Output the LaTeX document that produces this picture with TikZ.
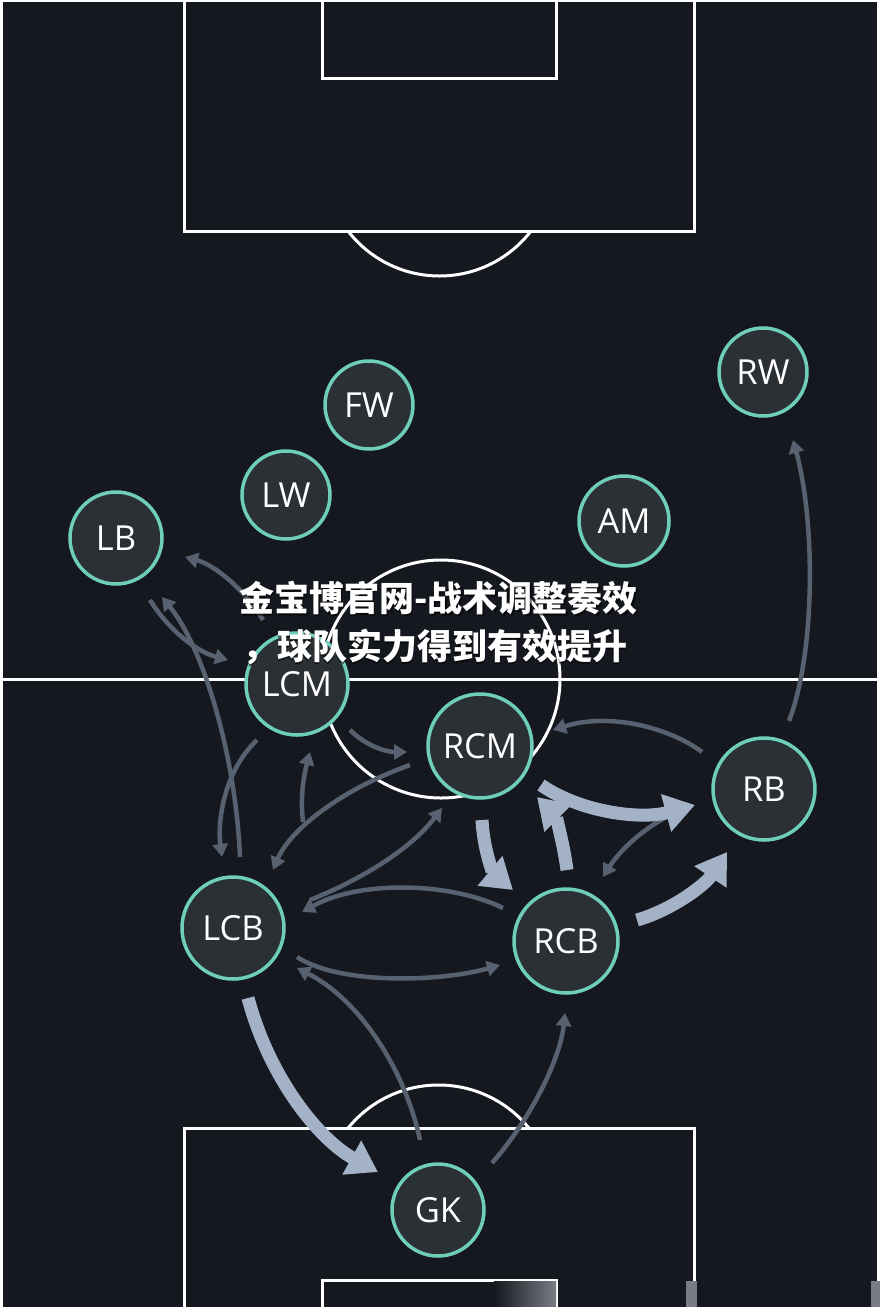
\documentclass[tikz,border=0pt]{standalone}
\usepackage{fontspec}
\usetikzlibrary{arrows.meta}
\newfontfamily\labfont{Open Sans}
\newfontfamily\cjkfont{Noto Sans CJK SC}
\definecolor{bgc}{RGB}{21,24,31}
\definecolor{tealc}{RGB}{110,206,186}
\definecolor{nodefill}{RGB}{43,48,53}
\definecolor{thinc}{RGB}{88,97,112}
\definecolor{thickc}{RGB}{163,178,198}
\definecolor{artc}{RGB}{120,124,132}
\begin{document}
\begin{tikzpicture}[x=1pt,y=-1pt,
  player/.style={circle, draw=tealc, line width=3.5pt, fill=nodefill, text=white,
    font=\labfont\fontsize{34.5}{34.5}\selectfont, inner sep=0pt},
  psmall/.style={minimum size=88pt},
  pbig/.style={minimum size=102pt},
  pline/.style={draw=white, line width=3pt},
  thinarr/.style={draw=thinc, line width=4.5pt, -{Triangle[length=13pt,width=15pt]}},
  thickarr/.style={draw=thickc, line width=13pt, -{Triangle[length=30pt,width=37pt]}},
  title/.style={anchor=base west, inner sep=0pt, font=\cjkfont\bfseries\fontsize{35}{35}\selectfont}
]
\useasboundingbox (0,0) rectangle (880,1307);
\fill[white] (0,0) rectangle (880,1307);
\fill[bgc] (3,2) rectangle (877,1307);

% pitch lines
\draw[pline] (184,0) -- (184,231) -- (694,231) -- (694,0);
\draw[pline] (322,0) -- (322,78) -- (556,78) -- (556,0);
\begin{scope}
  \clip (0,232.5) rectangle (880,400);
  \draw[pline] (439.5,160.5) circle (115.5);
\end{scope}
\draw[pline] (3,679) -- (877,679);
\draw[pline] (441,679) circle (119);
\draw[pline] (184,1307) -- (184,1128) -- (694,1128) -- (694,1307);
\draw[pline] (322,1307) -- (322,1280) -- (556,1280) -- (556,1307);
\begin{scope}
  \clip (0,1000) rectangle (880,1126.5);
  \draw[pline] (438.5,1201.5) circle (116.5);
\end{scope}
% bottom artefacts
\shade[left color=bgc, right color=artc] (494,1281) rectangle (556,1307);
\fill[artc] (686,1281) rectangle (697,1307);
\fill[artc] (871,1281) rectangle (880,1307);

% players
\node[player,psmall] (RW) at (763,372) {RW};
\node[player,psmall] (FW) at (369,405) {FW};
\node[player,psmall] (LW) at (286,495) {LW};
\node[player,psmall,minimum size=92pt] (LB) at (116,538) {LB};
\node[player,psmall,minimum size=90pt] (AM) at (624,521) {AM};
\node[player,pbig] (LCM) at (297,684) {LCM};
\node[player,pbig,minimum size=104pt] (RCM) at (480,746) {RCM};
\node[player,pbig] (RB) at (764,789) {RB};
\node[player,pbig] (LCB) at (233,928) {LCB};
\node[player,pbig,minimum size=104pt] (RCB) at (566,941) {RCB};
\node[player,psmall,minimum size=92pt] (GK) at (438,1210) {GK};

% thin arrows
\draw[thinarr] ([shift={(25,-68)}]RB.center) .. controls (816,650) and (815,520) .. ([shift={(30,68)}]RW.center);
\draw[thinarr] ([shift={(-62,-37)}]RB.center) .. controls (670,728) and (610,712) .. ([shift={(73,-16)}]RCM.center);
\draw[thinarr] ([shift={(-74,18)}]RB.center) .. controls (650,820) and (620,850) .. ([shift={(37,-64)}]RCB.center);
\draw[thinarr] ([shift={(-63,-33)}]RCB.center) .. controls (450,882) and (360,880) .. ([shift={(69,-16)}]LCB.center);
\draw[thinarr] ([shift={(64,29)}]LCB.center) .. controls (340,985) and (440,982) .. ([shift={(-66,24)}]RCB.center);
\draw[thinarr] ([shift={(77,-28)}]LCB.center) .. controls (360,880) and (410,850) .. ([shift={(-38,62)}]RCM.center);
\draw[thinarr] ([shift={(-70,19)}]RCM.center) .. controls (340,790) and (290,830) .. ([shift={(40,-58)}]LCB.center);
\draw[thinarr] ([shift={(53,46)}]LCM.center) .. controls (365,745) and (385,752) .. ([shift={(-73,6)}]RCM.center);
\draw[thinarr] ([shift={(70,-106)}]LCB.center) .. controls (300,795) and (304,775) .. ([shift={(13,68)}]LCM.center);
\draw[thinarr] ([shift={(-40,56)}]LCM.center) .. controls (225,770) and (217,820) .. ([shift={(-11,-71)}]LCB.center);
\draw[thinarr] ([shift={(7,-71)}]LCB.center) .. controls (236,760) and (205,650) .. ([shift={(46,59)}]LB.center);
\draw[thinarr] ([shift={(34,62)}]LB.center) .. controls (170,632) and (198,652) .. ([shift={(-69,-24)}]LCM.center);
\draw[thinarr] ([shift={(-34,-64)}]LCM.center) .. controls (245,590) and (215,565) .. ([shift={(69,19)}]LB.center);
\draw[thinarr] ([shift={(-18,-70)}]GK.center) .. controls (405,1070) and (360,1000) .. ([shift={(64,40)}]LCB.center);
\draw[thinarr] ([shift={(54,-47)}]GK.center) .. controls (530,1120) and (560,1060) .. ([shift={(-1,72)}]RCB.center);

% thick arrows
\draw[thickarr] ([shift={(61,39)}]RCM.center) .. controls (580,812) and (640,820) .. ([shift={(-69,16)}]RB.center);
\draw[thickarr] ([shift={(71,-21)}]RCB.center) .. controls (672,910) and (705,885) .. ([shift={(-37,63)}]RB.center);
\draw[thickarr] ([shift={(2,74)}]RCM.center) .. controls (484,855) and (495,875) .. ([shift={(-53,-51)}]RCB.center);
\draw[thickarr] ([shift={(1,-71)}]RCB.center) .. controls (563,840) and (555,815) .. ([shift={(57,51)}]RCM.center);
\draw[thickarr] ([shift={(15,70)}]LCB.center) .. controls (270,1080) and (320,1140) .. ([shift={(-60,-38)}]GK.center);

% title overlay
\node[title, text=black, opacity=0.6] (t1s) at (240.5,613.5) {金宝博官网-战术调整奏效};
\node[title, text=black, opacity=0.6] (t2s) at (242.5,661.5) {，球队实力得到有效提升};
\node[title, text=white] (t1) at (239,611) {金宝博官网-战术调整奏效};
\node[title, text=white] (t2) at (242,659) {，球队实力得到有效提升};
\end{tikzpicture}
\end{document}
